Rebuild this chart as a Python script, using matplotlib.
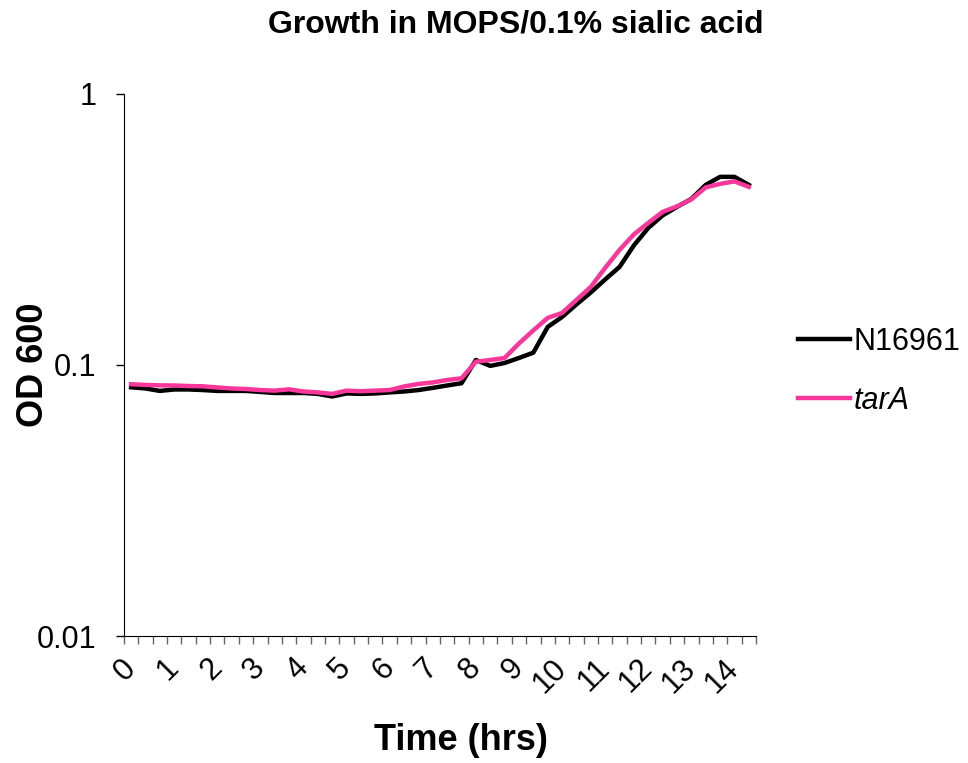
import numpy as np
import matplotlib.pyplot as plt

plt.rcParams['font.family'] = ['Liberation Sans', 'DejaVu Sans']

# OD600 readings every 20 min (44 readings)
n16961 = [0.0827, 0.0819, 0.0802, 0.0812, 0.0812, 0.0808, 0.0802, 0.0802, 0.0802, 0.0795,
          0.0788, 0.0788, 0.0788, 0.0782, 0.0765, 0.0785, 0.0782, 0.0785, 0.0792, 0.0798,
          0.0808, 0.0823, 0.0840, 0.0856, 0.1043, 0.0992, 0.1017, 0.1061, 0.1110, 0.1381,
          0.1503, 0.1672, 0.1851, 0.2067, 0.2299, 0.2761, 0.3201, 0.3561, 0.3828, 0.4098,
          0.4615, 0.4941, 0.4941, 0.4615]
tara = [0.0849, 0.0844, 0.0841, 0.0840, 0.0836, 0.0834, 0.0826, 0.0819, 0.0815, 0.0808,
        0.0804, 0.0813, 0.0798, 0.0792, 0.0782, 0.0804, 0.0800, 0.0804, 0.0808, 0.0833,
        0.0851, 0.0862, 0.0880, 0.0893, 0.1028, 0.1043, 0.1061, 0.1200, 0.1341, 0.1491,
        0.1555, 0.1737, 0.1940, 0.2280, 0.2657, 0.3030, 0.3342, 0.3669, 0.3845, 0.4081,
        0.4519, 0.4655, 0.4755, 0.4538]
hour_labels = [str(h) for h in range(15)]

x = np.arange(len(n16961))

fig = plt.figure(figsize=(9.68, 7.63), dpi=100)
ax = fig.add_axes([0.128, 0.1664, 0.653, 0.7106])

ax.plot(x, n16961, color='black', lw=3.2, label='N16961')
ax.plot(x, tara, color='#F7379A', lw=3.2, label='tarA')

ax.set_yscale('log')
ax.set_ylim(0.01, 1)
ax.set_yticks([0.01, 0.1, 1])
ax.set_yticklabels(['0.01', '0.1', '1'])
ax.yaxis.set_minor_locator(plt.NullLocator())
ax.tick_params(axis='y', which='major', direction='out', length=6, width=1,
               labelsize=22, pad=14)

ax.set_xlim(-0.5, len(x) - 0.5)
ax.set_xticks(np.arange(-0.5, len(x), 1))
ax.set_xticklabels([])
ax.set_xticks(np.arange(0, len(x), 3), minor=True)
ax.set_xticklabels(hour_labels, minor=True, rotation=45, ha='right', va='center',
                   rotation_mode='anchor')
ax.tick_params(axis='x', which='major', direction='out', length=6, width=1, color='#666666')
ax.tick_params(axis='x', which='minor', length=0, labelsize=22, pad=20)

for s in ['top', 'right']:
    ax.spines[s].set_visible(False)

ax.set_xlabel('Time (hrs)', fontsize=26, fontweight='bold')
ax.xaxis.set_label_coords(0.533, -0.16)
ax.set_ylabel('OD 600', fontsize=26, fontweight='bold')
ax.yaxis.set_label_coords(-0.116, 0.5)
fig.suptitle('Growth in MOPS/0.1% sialic acid', fontsize=23, fontweight='bold', x=0.533, y=0.988)

leg = ax.legend(loc='center left', bbox_to_anchor=(0.812, 0.513), bbox_transform=fig.transFigure,
                frameon=False, fontsize=22, handlelength=1.7, handletextpad=0.1,
                labelspacing=0.95, borderaxespad=0)
leg.get_texts()[1].set_fontstyle('italic')

fig.savefig('out.png', dpi=100)
